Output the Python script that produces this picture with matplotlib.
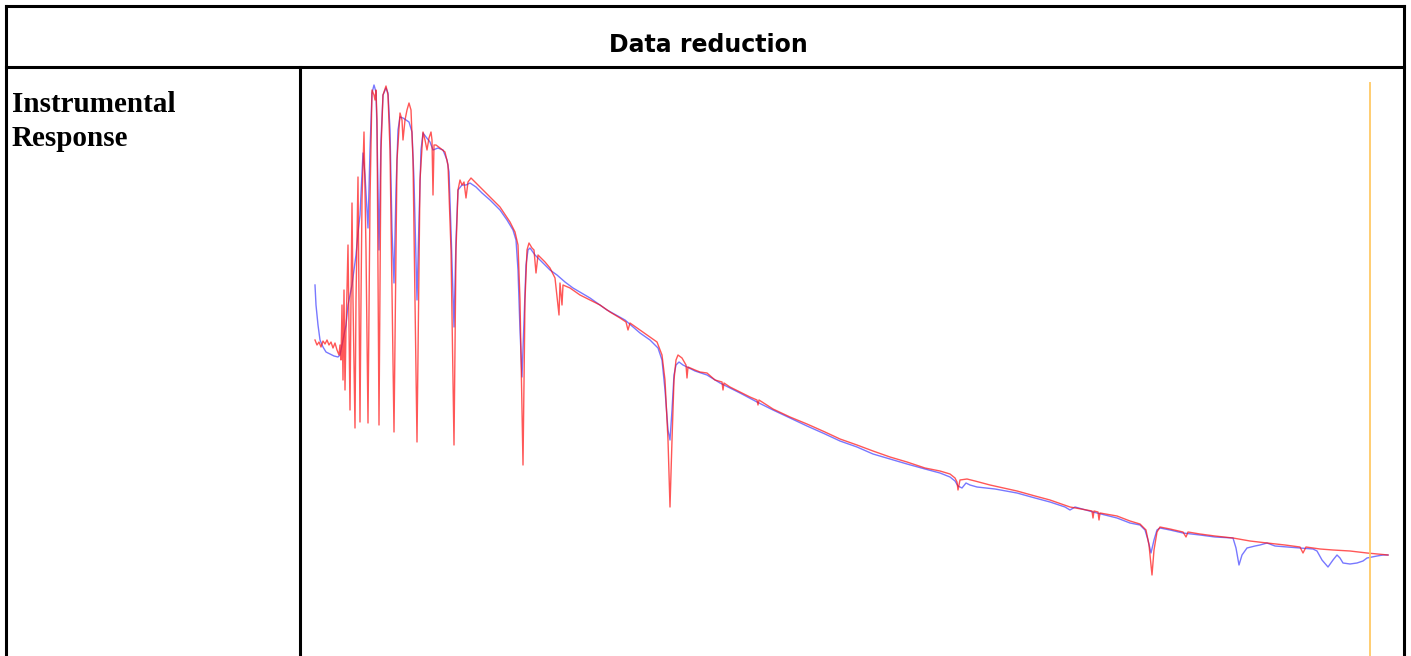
import matplotlib
matplotlib.use('Agg')
import matplotlib.pyplot as plt
from matplotlib.lines import Line2D

# spectrum data (wavelength in nm, flux in arbitrary units)
red_wl = [315, 317, 319, 321, 323, 325, 327, 329, 331, 333,
          335, 337, 339, 340, 341, 342, 343, 344, 345, 346,
          347, 348, 349, 350, 351, 352, 353, 355, 356, 358,
          359, 360, 361, 362, 364, 366, 368, 370, 372, 374,
          375, 376, 377, 379, 381, 383, 386, 388, 390, 394,
          397, 400, 402, 403, 405, 407, 409, 411, 413, 417,
          420, 423, 425, 427, 429, 431, 432, 433, 434, 436,
          440, 445, 448, 451, 454, 456, 458, 460, 462, 464,
          466, 468, 471, 475, 480, 490, 500, 510, 515, 518,
          520, 523, 525, 527, 529, 532, 534, 536, 538, 545,
          550, 555, 559, 560, 562, 563, 570, 580, 590, 600,
          610, 620, 626, 628, 630, 640, 650, 657, 662, 665,
          668, 670, 672, 674, 676, 678, 682, 686, 687, 688,
          695, 700, 707, 715, 722, 723, 724, 730, 740, 750,
          757, 758, 759, 773, 790, 807, 825, 840, 857, 873,
          890, 907, 925, 940, 950, 955, 957, 958, 960, 967,
          975, 990, 1017, 1035, 1050, 1070, 1092, 1093, 1094, 1098,
          1099, 1100, 1117, 1130, 1140, 1146, 1149, 1152, 1154, 1157,
          1160, 1170, 1183, 1186, 1188, 1200, 1215, 1233, 1250, 1267,
          1285, 1300, 1303, 1306, 1320, 1333, 1350, 1367, 1378, 1388]
red_flux = [260, 255, 258, 253, 259, 256, 260, 255, 258, 252,
            257, 250, 245, 255, 240, 295, 220, 310, 210, 270,
            310, 355, 270, 190, 300, 397, 300, 172, 300, 423,
            300, 178, 300, 400, 468, 350, 177, 400, 510, 505,
            500, 510, 480, 175, 450, 505, 514, 505, 450, 168,
            440, 487, 480, 460, 480, 490, 497, 490, 440, 158,
            420, 468, 460, 450, 462, 468, 460, 405, 455, 455,
            452, 448, 435, 350, 155, 350, 410, 420, 415, 418,
            402, 418, 422, 418, 413, 403, 393, 378, 368, 355,
            300, 135, 300, 350, 357, 352, 350, 327, 345, 338,
            332, 322, 285, 317, 295, 315, 312, 305, 300, 295,
            288, 282, 278, 270, 277, 270, 263, 258, 245, 220,
            160, 93, 160, 220, 240, 245, 242, 235, 222, 233,
            230, 228, 227, 220, 218, 210, 217, 213, 208, 203,
            200, 195, 200, 191, 183, 176, 168, 161, 155, 149,
            143, 138, 132, 129, 126, 122, 118, 110, 120, 121,
            119, 115, 109, 104, 100, 93, 89, 82, 89, 88,
            80, 87, 84, 79, 76, 70, 55, 25, 50, 68,
            73, 71, 68, 63, 68, 66, 64, 62, 59, 57,
            55, 53, 47, 53, 51, 50, 49, 47, 46, 45]

blue_wl = [315, 316, 318, 320, 323, 326, 330, 334, 338, 340,
           342, 344, 346, 348, 350, 352, 354, 356, 358, 360,
           362, 363, 365, 368, 370, 372, 374, 376, 377, 379,
           381, 383, 386, 388, 390, 392, 394, 396, 398, 400,
           403, 406, 409, 412, 414, 417, 419, 421, 423, 426,
           430, 433, 438, 443, 447, 449, 451, 454, 456, 458,
           462, 466, 470, 476, 482, 490, 500, 507, 513, 516,
           518, 520, 522, 524, 526, 528, 530, 535, 540, 545,
           550, 557, 565, 573, 590, 607, 625, 640, 650, 658,
           662, 665, 668, 670, 672, 674, 676, 679, 683, 687,
           695, 707, 720, 740, 757, 773, 790, 807, 825, 840,
           857, 873, 890, 907, 925, 940, 950, 955, 958, 962,
           966, 970, 977, 995, 1017, 1035, 1050, 1065, 1070, 1075,
           1093, 1117, 1130, 1140, 1145, 1148, 1151, 1154, 1157, 1160,
           1170, 1183, 1200, 1215, 1233, 1236, 1239, 1242, 1247, 1255,
           1260, 1267, 1275, 1287, 1300, 1313, 1317, 1322, 1328, 1333,
           1337, 1340, 1343, 1350, 1357, 1363, 1367, 1372, 1377, 1383, 1388]
blue_flux = [315, 295, 275, 260, 253, 248, 246, 244, 243, 245,
             255, 265, 275, 295, 305, 315, 330, 345, 367, 385,
             425, 447, 425, 372, 450, 507, 515, 508, 470, 350,
             460, 505, 512, 507, 470, 370, 317, 410, 470, 483,
             482, 480, 478, 468, 420, 300, 380, 450, 467, 463,
             458, 450, 452, 450, 440, 428, 370, 273, 360, 410,
             415, 415, 417, 413, 407, 400, 390, 380, 370, 360,
             330, 270, 223, 280, 335, 350, 352, 345, 340, 335,
             330, 325, 318, 312, 302, 290, 280, 267, 260, 252,
             240, 210, 170, 160, 190, 225, 235, 238, 235, 233,
             229, 225, 217, 207, 198, 190, 182, 174, 166, 159,
             153, 146, 141, 136, 131, 127, 123, 119, 114, 112,
             117, 115, 113, 111, 107, 102, 98, 93, 90, 93,
             88, 82, 77, 75, 70, 60, 47, 60, 70, 72,
             70, 67, 65, 63, 62, 52, 35, 45, 52, 54,
             55, 57, 54, 53, 52, 51, 49, 40, 33, 40,
             45, 42, 37, 36, 37, 39, 42, 43, 44, 45, 45]

marker_wl = 1370
marker_top = 517

title = 'Data reduction'
row_label = 'Instrumental\nResponse'

fig = plt.figure(figsize=(14.11, 6.56), dpi=100)

# table frame
W, H = 1411, 656
def fx(px):
    return px / W
def fy(py):
    return 1 - py / H

lw = 2.2
fig.add_artist(Line2D([fx(6), fx(6)], [fy(6), 0], color='black', lw=lw))
fig.add_artist(Line2D([fx(1404), fx(1404)], [fy(6), 0], color='black', lw=lw))
fig.add_artist(Line2D([fx(6), fx(1404)], [fy(6), fy(6)], color='black', lw=lw))
fig.add_artist(Line2D([fx(6), fx(1404)], [fy(67), fy(67)], color='black', lw=lw))
fig.add_artist(Line2D([fx(300), fx(300)], [fy(67), 0], color='black', lw=lw))

fig.text(fx(708), fy(45), title, ha='center', va='center', fontsize=17,
         fontweight='bold', family='DejaVu Sans')
fig.text(fx(12), fy(91), row_label, ha='left', va='top', fontsize=21,
         fontweight='bold', family='Liberation Serif', linespacing=1.35)

ax = fig.add_axes([fx(302), 0, fx(1402) - fx(302), fy(68)])
ax.plot(blue_wl, blue_flux, color='#3030ff', lw=1.0, alpha=0.65)
ax.plot(red_wl, red_flux, color='#ff1010', lw=1.0, alpha=0.7)
ax.plot([marker_wl, marker_wl], [marker_top, -60], color='#ffc862', lw=1.4, alpha=0.9)
ax.set_xlim(302, 1402)
ax.set_ylim(-56, 532)
ax.axis('off')

fig.savefig('out.png', dpi=100, facecolor='white')
